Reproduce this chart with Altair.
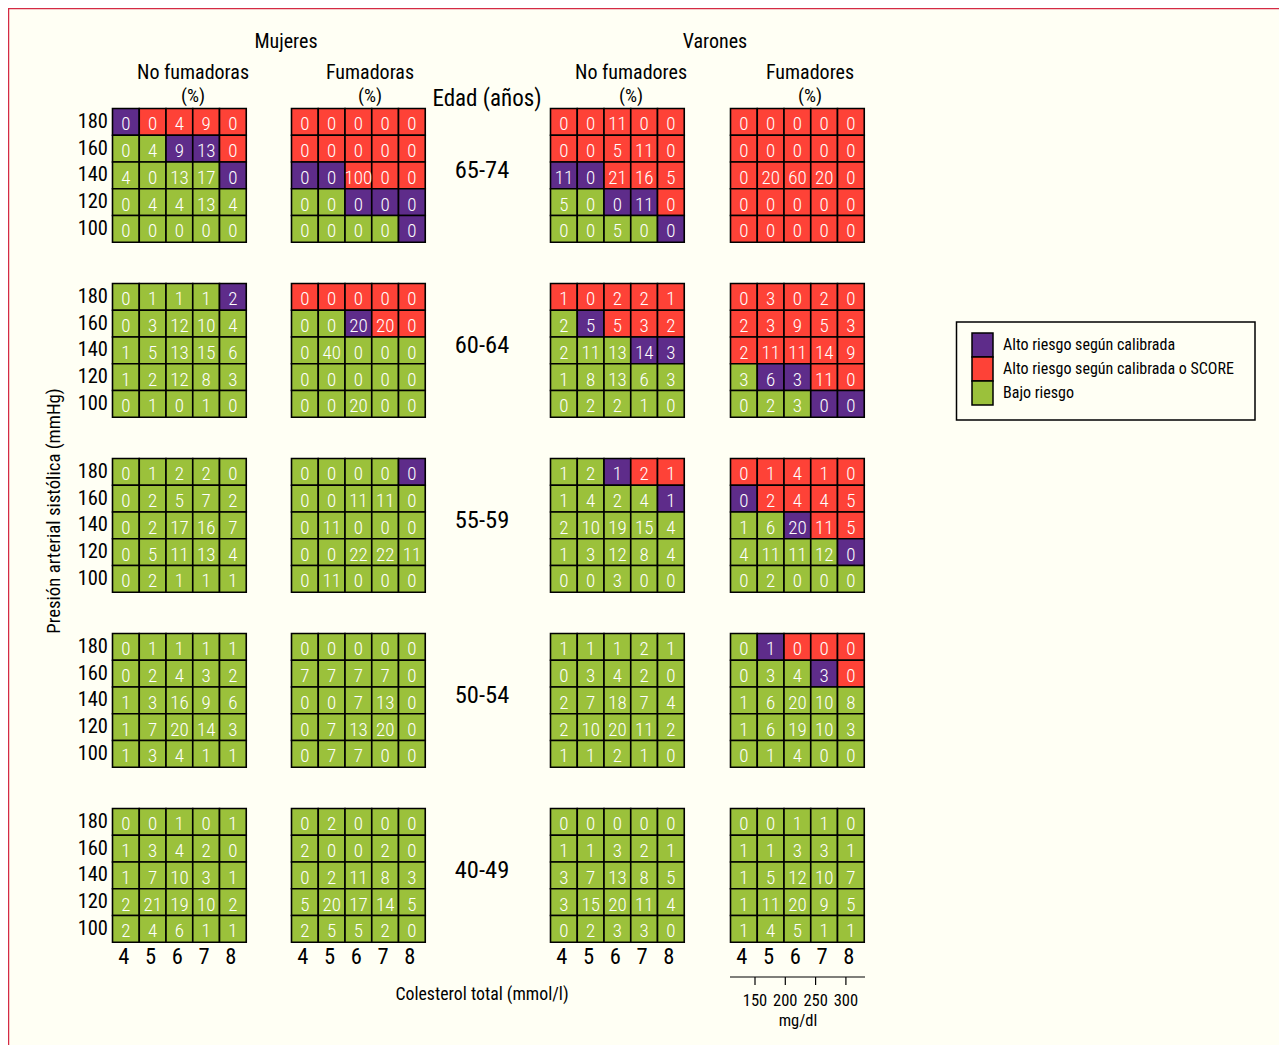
import altair as alt
import pandas as pd

# ---------------- data ----------------
AGE_BANDS = ["65-74", "60-64", "55-59", "50-54", "40-49"]
SYSTOLIC = [180, 160, 140, 120, 100]          # mmHg, rows top -> bottom
CHOLESTEROL = [4, 5, 6, 7, 8]                 # mmol/l, columns
MGDL_TICKS = [150, 200, 250, 300]
GROUP_TITLES = ["No fumadoras", "Fumadoras", "No fumadores", "Fumadores"]
SEX_TITLES = ["Mujeres", "Varones"]
RISK_CODES = ["P", "R", "G"]
RISK_LABELS = ["Alto riesgo según calibrada",
               "Alto riesgo según calibrada o SCORE",
               "Bajo riesgo"]
RISK_COLORS = ["#5e2c8a", "#fe4237", "#9bc13b"]

# each row: 4 panels x 5 cholesterol columns (Mujeres NF, Mujeres F, Varones NF, Varones F)
VAL_65_74 = [
    [0, 0, 4, 9, 0,   0, 0, 0, 0, 0,     0, 0, 11, 0, 0,    0, 0, 0, 0, 0],
    [0, 4, 9, 13, 0,  0, 0, 0, 0, 0,     0, 0, 5, 11, 0,    0, 0, 0, 0, 0],
    [4, 0, 13, 17, 0, 0, 0, 100, 0, 0,   11, 0, 21, 16, 5,  0, 20, 60, 20, 0],
    [0, 4, 4, 13, 4,  0, 0, 0, 0, 0,     5, 0, 0, 11, 0,    0, 0, 0, 0, 0],
    [0, 0, 0, 0, 0,   0, 0, 0, 0, 0,     0, 0, 5, 0, 0,     0, 0, 0, 0, 0],
]
RISK_65_74 = ["PRRRR RRRRR RRRRR RRRRR",
              "GGPPR RRRRR RRRRR RRRRR",
              "GGGGP PPRRR PPRRR RRRRR",
              "GGGGG GGPPP GGPPR RRRRR",
              "GGGGG GGGGP GGGGP RRRRR"]

VAL_60_64 = [
    [0, 1, 1, 1, 2,    0, 0, 0, 0, 0,    1, 0, 2, 2, 1,     0, 3, 0, 2, 0],
    [0, 3, 12, 10, 4,  0, 0, 20, 20, 0,  2, 5, 5, 3, 2,     2, 3, 9, 5, 3],
    [1, 5, 13, 15, 6,  0, 40, 0, 0, 0,   2, 11, 13, 14, 3,  2, 11, 11, 14, 9],
    [1, 2, 12, 8, 3,   0, 0, 0, 0, 0,    1, 8, 13, 6, 3,    3, 6, 3, 11, 0],
    [0, 1, 0, 1, 0,    0, 0, 20, 0, 0,   0, 2, 2, 1, 0,     0, 2, 3, 0, 0],
]
RISK_60_64 = ["GGGGP RRRRR RRRRR RRRRR",
              "GGGGG GGPRR GPRRR RRRRR",
              "GGGGG GGGGG GGGPP RRRRR",
              "GGGGG GGGGG GGGGG GPPRR",
              "GGGGG GGGGG GGGGG GGGPP"]

VAL_55_59 = [
    [0, 1, 2, 2, 0,    0, 0, 0, 0, 0,      1, 2, 1, 2, 1,     0, 1, 4, 1, 0],
    [0, 2, 5, 7, 2,    0, 0, 11, 11, 0,    1, 4, 2, 4, 1,     0, 2, 4, 4, 5],
    [0, 2, 17, 16, 7,  0, 11, 0, 0, 0,     2, 10, 19, 15, 4,  1, 6, 20, 11, 5],
    [0, 5, 11, 13, 4,  0, 0, 22, 22, 11,   1, 3, 12, 8, 4,    4, 11, 11, 12, 0],
    [0, 2, 1, 1, 1,    0, 11, 0, 0, 0,     0, 0, 3, 0, 0,     0, 2, 0, 0, 0],
]
RISK_55_59 = ["GGGGG GGGGP GGPRR RRRRR",
              "GGGGG GGGGG GGGGP PRRRR",
              "GGGGG GGGGG GGGGG GGPRR",
              "GGGGG GGGGG GGGGG GGGGP",
              "GGGGG GGGGG GGGGG GGGGG"]

VAL_50_54 = [
    [0, 1, 1, 1, 1,    0, 0, 0, 0, 0,     1, 1, 1, 2, 1,     0, 1, 0, 0, 0],
    [0, 2, 4, 3, 2,    7, 7, 7, 7, 0,     0, 3, 4, 2, 0,     0, 3, 4, 3, 0],
    [1, 3, 16, 9, 6,   0, 0, 7, 13, 0,    2, 7, 18, 7, 4,    1, 6, 20, 10, 8],
    [1, 7, 20, 14, 3,  0, 7, 13, 20, 0,   2, 10, 20, 11, 2,  1, 6, 19, 10, 3],
    [1, 3, 4, 1, 1,    0, 7, 7, 0, 0,     1, 1, 2, 1, 0,     0, 1, 4, 0, 0],
]
RISK_50_54 = ["GGGGG GGGGG GGGGG GPRRR",
              "GGGGG GGGGG GGGGG GGGPR",
              "GGGGG GGGGG GGGGG GGGGG",
              "GGGGG GGGGG GGGGG GGGGG",
              "GGGGG GGGGG GGGGG GGGGG"]

VAL_40_49 = [
    [0, 0, 1, 0, 1,     0, 2, 0, 0, 0,     0, 0, 0, 0, 0,     0, 0, 1, 1, 0],
    [1, 3, 4, 2, 0,     2, 0, 0, 2, 0,     1, 1, 3, 2, 1,     1, 1, 3, 3, 1],
    [1, 7, 10, 3, 1,    0, 2, 11, 8, 3,    3, 7, 13, 8, 5,    1, 5, 12, 10, 7],
    [2, 21, 19, 10, 2,  5, 20, 17, 14, 5,  3, 15, 20, 11, 4,  1, 11, 20, 9, 5],
    [2, 4, 6, 1, 1,     2, 5, 5, 2, 0,     0, 2, 3, 3, 0,     1, 4, 5, 1, 1],
]
RISK_40_49 = ["GGGGG GGGGG GGGGG GGGGG"] * 5

VALUES = [VAL_65_74, VAL_60_64, VAL_55_59, VAL_50_54, VAL_40_49]
RISKS = [RISK_65_74, RISK_60_64, RISK_55_59, RISK_50_54, RISK_40_49]

# ---------------- layout ----------------
W, H = 1271, 1037
CELL = 26.75
GRID_X0 = [112.5, 291.5, 550.5, 730.5]
GRID_Y0 = [108.5, 283.5, 458.5, 633.5, 808.5]
FONT = "Roboto Condensed, Liberation Sans Narrow, DejaVu Sans Condensed, Arial Narrow, Liberation Sans"
BG = "#fffff4"

XS = alt.Scale(domain=[8, 8 + W], range=[0, W], nice=False, zero=False)
YS = alt.Scale(domain=[8, 8 + H], range=[0, H], nice=False, zero=False)
code_to_label = dict(zip(RISK_CODES, RISK_LABELS))

rows = []
for a, age in enumerate(AGE_BANDS):
    for r, sbp in enumerate(SYSTOLIC):
        risk_row = RISKS[a][r].replace(" ", "")
        for g in range(4):
            for c, chol in enumerate(CHOLESTEROL):
                k = g * 5 + c
                x = GRID_X0[g] + c * CELL
                y = GRID_Y0[a] + r * CELL
                rows.append(dict(age=age, sbp=sbp, chol=chol, group=g,
                                 value=VALUES[a][r][k],
                                 risk=code_to_label[risk_row[k]],
                                 x=x, x2=x + CELL, y=y, y2=y + CELL,
                                 cx=x + CELL / 2, cy=y + CELL / 2))
cells = pd.DataFrame(rows)

def X(f):
    return alt.X(f"{f}:Q", scale=XS, axis=None)

def Y(f):
    return alt.Y(f"{f}:Q", scale=YS, axis=None)

color = alt.Color("risk:N", scale=alt.Scale(domain=RISK_LABELS, range=RISK_COLORS), legend=None)

rects = alt.Chart(cells).mark_rect(stroke="black", strokeWidth=1.6).encode(
    x=X("x"), x2="x2:Q", y=Y("y"), y2="y2:Q", color=color)

nums = alt.Chart(cells).mark_text(font=FONT, fontSize=19, fontWeight=300, color="white",
                                  baseline="middle", dy=2.5).encode(
    x=X("cx"), y=Y("cy"), text="value:N")

# systolic labels
sbp_rows = []
for a in range(5):
    for r, sbp in enumerate(SYSTOLIC):
        sbp_rows.append(dict(t=str(sbp), x=108, y=GRID_Y0[a] + r * CELL + CELL / 2))
sbp_df = pd.DataFrame(sbp_rows)
sbp_text = alt.Chart(sbp_df).mark_text(font=FONT, fontSize=20.5, align="right",
                                       baseline="middle", color="black").encode(
    x=X("x"), y=Y("y"), text="t:N")

# cholesterol labels
chol_rows = []
for g in range(4):
    for c, chol in enumerate(CHOLESTEROL):
        chol_rows.append(dict(t=str(chol), x=GRID_X0[g] + c * CELL + CELL / 2 - 2, y=957))
chol_df = pd.DataFrame(chol_rows)
chol_text = alt.Chart(chol_df).mark_text(font=FONT, fontSize=22.5, baseline="middle",
                                         color="black").encode(
    x=X("x"), y=Y("y"), text="t:N")

# headers / titles (centered)
labels = [
    dict(t=SEX_TITLES[0], x=286, y=42, s=20, ang=0),
    dict(t=SEX_TITLES[1], x=715, y=42, s=20, ang=0),
]
for g, gx in enumerate([193, 370, 631, 810]):
    labels.append(dict(t=GROUP_TITLES[g], x=gx, y=73, s=20, ang=0))
    labels.append(dict(t="(%)", x=gx, y=96, s=19, ang=0))
labels.append(dict(t="Edad (años)", x=487, y=99, s=23, ang=0))
for a, age in enumerate(AGE_BANDS):
    labels.append(dict(t=age, x=482, y=GRID_Y0[a] + 62, s=24.5, ang=0))
labels.append(dict(t="Colesterol total (mmol/l)", x=482, y=995, s=17.8, ang=0))
labels.append(dict(t="Presión  arterial sistólica  (mmHg)", x=54, y=511, s=18.8, ang=270))
for v in MGDL_TICKS:
    labels.append(dict(t=str(v), x=755 + (v - 150) * 0.606, y=1001, s=16.5, ang=0))
labels.append(dict(t="mg/dl", x=798, y=1021, s=16.5, ang=0))
lab_df = pd.DataFrame(labels)
lab_text = alt.Chart(lab_df).mark_text(font=FONT, baseline="middle", color="black").encode(
    x=X("x"), y=Y("y"), text="t:N",
    size=alt.Size("s:Q", scale=None), angle=alt.Angle("ang:Q", scale=None))

# mg/dl secondary axis
axis_df = pd.DataFrame([dict(x=730, x2=865, y=977)])
axis_line = alt.Chart(axis_df).mark_rule(color="black", strokeWidth=1.2).encode(
    x=X("x"), x2="x2:Q", y=Y("y"))
tick_df = pd.DataFrame([dict(x=755 + (v - 150) * 0.606, y=977, y2=985) for v in MGDL_TICKS])
ticks = alt.Chart(tick_df).mark_rule(color="black", strokeWidth=1.2).encode(
    x=X("x"), y=Y("y"), y2="y2:Q")

# frame lines (top and left)
frame_df = pd.DataFrame([dict(x=8, x2=8 + W, y=8.5, y2=8.5), dict(x=8.5, x2=8.5, y=8, y2=8 + H)])
frame = alt.Chart(frame_df).mark_rule(color="#d42a44", strokeWidth=1.5).encode(
    x=X("x"), x2="x2:Q", y=Y("y"), y2="y2:Q")

# legend box
box_df = pd.DataFrame([dict(x=956.5, x2=1255, y=322, y2=420)])
box = alt.Chart(box_df).mark_rect(fill=BG, stroke="black", strokeWidth=1.5).encode(
    x=X("x"), x2="x2:Q", y=Y("y"), y2="y2:Q")
leg_df = pd.DataFrame([dict(risk=lab, x=972, x2=993, y=333 + i * 24, y2=357 + i * 24,
                            tx=1003, ty=345 + i * 24) for i, lab in enumerate(RISK_LABELS)])
leg_sw = alt.Chart(leg_df).mark_rect(stroke="black", strokeWidth=1.5).encode(
    x=X("x"), x2="x2:Q", y=Y("y"), y2="y2:Q", color=color)
leg_txt = alt.Chart(leg_df).mark_text(font=FONT, fontSize=16, align="left",
                                      baseline="middle", color="black").encode(
    x=X("tx"), y=Y("ty"), text="risk:N")

chart = alt.layer(frame, rects, nums, sbp_text, chol_text, lab_text, axis_line, ticks,
                  box, leg_sw, leg_txt).properties(
    width=W, height=H, padding=0, background=BG,
    autosize=alt.AutoSizeParams(type="none")
).configure_view(stroke=None)

chart.save("out.html", embed_options={"renderer": "svg", "actions": False})
